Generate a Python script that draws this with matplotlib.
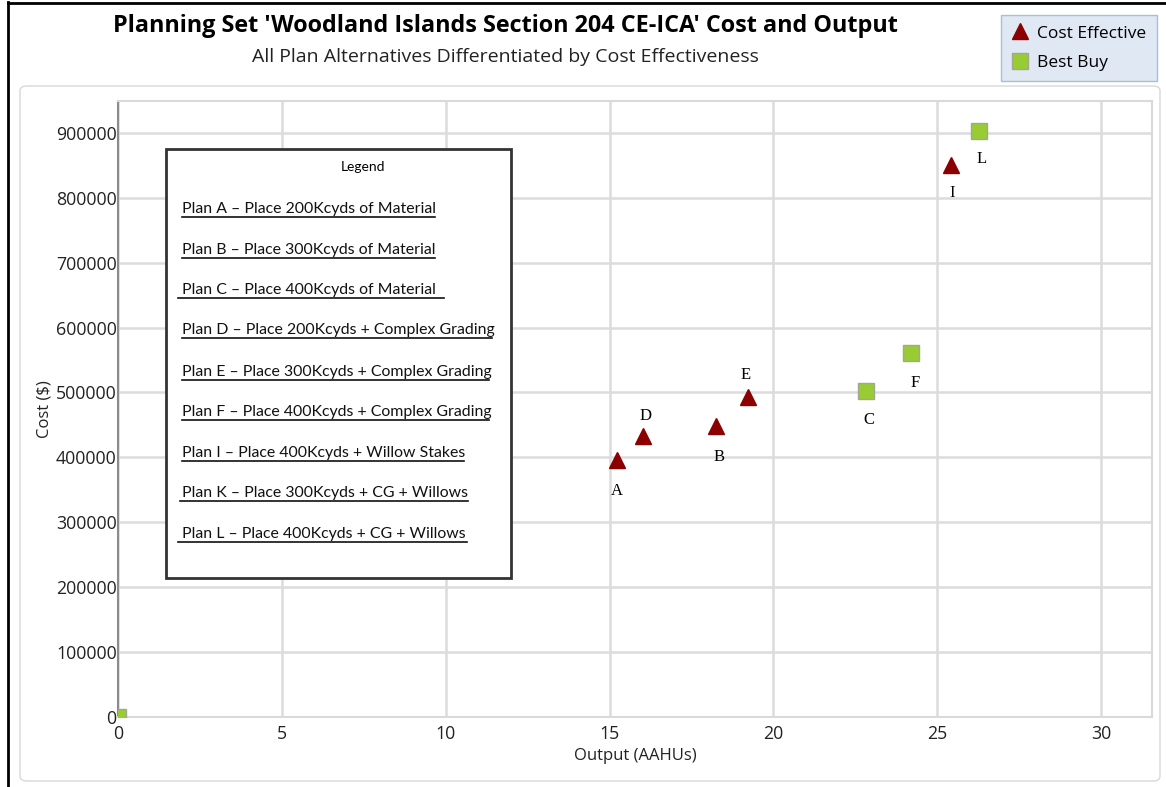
import matplotlib
matplotlib.use("Agg")
import matplotlib.pyplot as plt
from matplotlib.patches import FancyBboxPatch, Rectangle
from matplotlib.lines import Line2D

# data
ce_names = ["A", "D", "B", "E", "I"]
ce_output = [15.23, 16.02, 18.25, 19.22, 25.42]
ce_cost = [396000, 433000, 448000, 493000, 850500]

bb_names = ["", "C", "F", "L"]
bb_output = [0.0, 22.83, 24.2, 26.27]
bb_cost = [0, 502000, 561000, 903000]

# label placement (points offset) per plan
ce_offsets = {"A": (0, -22), "D": (2, 14), "B": (2, -22), "E": (-2, 16), "I": (1, -20)}
bb_offsets = {"C": (2, -21), "F": (3, -22), "L": (2, -20)}

legend_title = "Legend"
plan_lines = [
    "Plan A \u2013 Place 200Kcyds of Material",
    "Plan B \u2013 Place 300Kcyds of Material",
    "Plan C \u2013 Place 400Kcyds of Material",
    "Plan D \u2013 Place 200Kcyds + Complex Grading",
    "Plan E \u2013 Place 300Kcyds + Complex Grading",
    "Plan F \u2013 Place 400Kcyds + Complex Grading",
    "Plan I \u2013 Place 400Kcyds + Willow Stakes",
    "Plan K \u2013 Place 300Kcyds + CG + Willows",
    "Plan L \u2013 Place 400Kcyds + CG + Willows",
]

W, H = 1166, 787
fig = plt.figure(figsize=(W / 100, H / 100), dpi=100)
fig.patch.set_facecolor("white")

def fx(px):
    return px / W

def fy(py):
    return 1 - py / H

# outer frame bits
fig.add_artist(Line2D([fx(8), fx(8)], [0, fy(2)], color="black", lw=2))
fig.add_artist(Line2D([fx(8), 1], [fy(3), fy(3)], color="black", lw=2))
fig.add_artist(FancyBboxPatch((fx(20), fy(781)), fx(1160) - fx(20), fy(86) - fy(781),
                              boxstyle="round,pad=0,rounding_size=0.006",
                              transform=fig.transFigure, fc="white", ec="#d8d8d8", lw=1,
                              zorder=-1))

# titles
fig.text(fx(505), fy(26), "Planning Set 'Woodland Islands Section 204 CE-ICA' Cost and Output",
         ha="center", va="center", fontsize=16.8, fontweight="bold", family="Open Sans")
fig.text(fx(505), fy(57), "All Plan Alternatives Differentiated by Cost Effectiveness",
         ha="center", va="center", fontsize=14, family="Open Sans", color="#222222")

ax = fig.add_axes([fx(118), fy(717), fx(1152) - fx(118), fy(101) - fy(717)])
ax.set_xlim(0, 31.55)
ax.set_ylim(0, 949000)
ax.set_xticks([0, 5, 10, 15, 20, 25, 30])
ax.set_yticks(range(0, 1000000, 100000))
ax.set_yticklabels([str(v) for v in range(0, 1000000, 100000)])
ax.grid(True, color="#dcdcdc", lw=1.8)
ax.set_axisbelow(True)
for s in ["top", "right", "bottom"]:
    ax.spines[s].set_color("#d9d9d9")
    ax.spines[s].set_linewidth(1.5)
ax.spines["left"].set_color("#8c8c8c")
ax.spines["left"].set_linewidth(1.5)
ax.tick_params(length=0, labelsize=12.8, colors="#222222")
ax.tick_params(axis="x", pad=6)
ax.tick_params(axis="y", pad=1)
for lab in ax.get_xticklabels() + ax.get_yticklabels():
    lab.set_family("Open Sans")
ax.set_xlabel("Output (AAHUs)", fontsize=12, family="Open Sans", color="#222222", labelpad=3)
ax.set_ylabel("Cost ($)", fontsize=12, family="Open Sans", color="#222222", labelpad=2)

ax.plot(ce_output, ce_cost, ls="none", marker="^", ms=12, color="#8b0000",
        mec="#8b0000", zorder=3)
ax.plot(bb_output, bb_cost, ls="none", marker="s", ms=12, color="#99cc33",
        mec="#a0a890", mew=1, zorder=3)

for n, x, y in zip(ce_names, ce_output, ce_cost):
    ax.annotate(n, (x, y), xytext=ce_offsets[n], textcoords="offset points",
                ha="center", va="center", fontsize=12, family="Liberation Serif")
for n, x, y in zip(bb_names, bb_output, bb_cost):
    if n:
        ax.annotate(n, (x, y), xytext=bb_offsets[n], textcoords="offset points",
                    ha="center", va="center", fontsize=12, family="Liberation Serif")

# the pasted-in plan legend box
fig.add_artist(Rectangle((fx(166), fy(578)), fx(511) - fx(166), fy(149) - fy(578),
                         transform=fig.transFigure, fc="white", ec="#333333", lw=2, zorder=5))
fig.text(fx(363), fy(167), legend_title, ha="center", va="center", fontsize=10,
         family="Lato", zorder=6)
item_y = [209, 250, 290, 330, 372, 412, 453, 493, 534]
line_x = [(182, 435), (182, 435), (178, 444), (182, 492), (182, 489),
          (182, 489), (182, 464), (180, 468), (178, 467)]
for txt, y, (x0, x1) in zip(plan_lines, item_y, line_x):
    fig.text(fx(182), fy(y), txt, ha="left", va="center", fontsize=11.4, family="Lato",
             color="#111111", zorder=6)
    fig.add_artist(Line2D([fx(x0), fx(x1)], [fy(y + 8), fy(y + 8)], color="#111111",
                          lw=1.2, zorder=6))

# series legend top right
h1 = Line2D([], [], ls="none", marker="^", ms=11, color="#8b0000")
h2 = Line2D([], [], ls="none", marker="s", ms=11, color="#99cc33", mec="#a0a890")
leg = fig.legend([h1, h2], ["Cost Effective", "Best Buy"], loc="upper right",
                 bbox_to_anchor=(fx(1157), fy(15)), borderaxespad=0, frameon=True,
                 fancybox=False, prop={"family": "Open Sans", "size": 12.5},
                 handlelength=1.0, handletextpad=0.5, labelspacing=0.75,
                 borderpad=0.6)
leg.get_frame().set_facecolor("#dfe8f3")
leg.get_frame().set_edgecolor("#a9bfd6")
leg.get_frame().set_alpha(1)

fig.savefig("out.png", dpi=100)
